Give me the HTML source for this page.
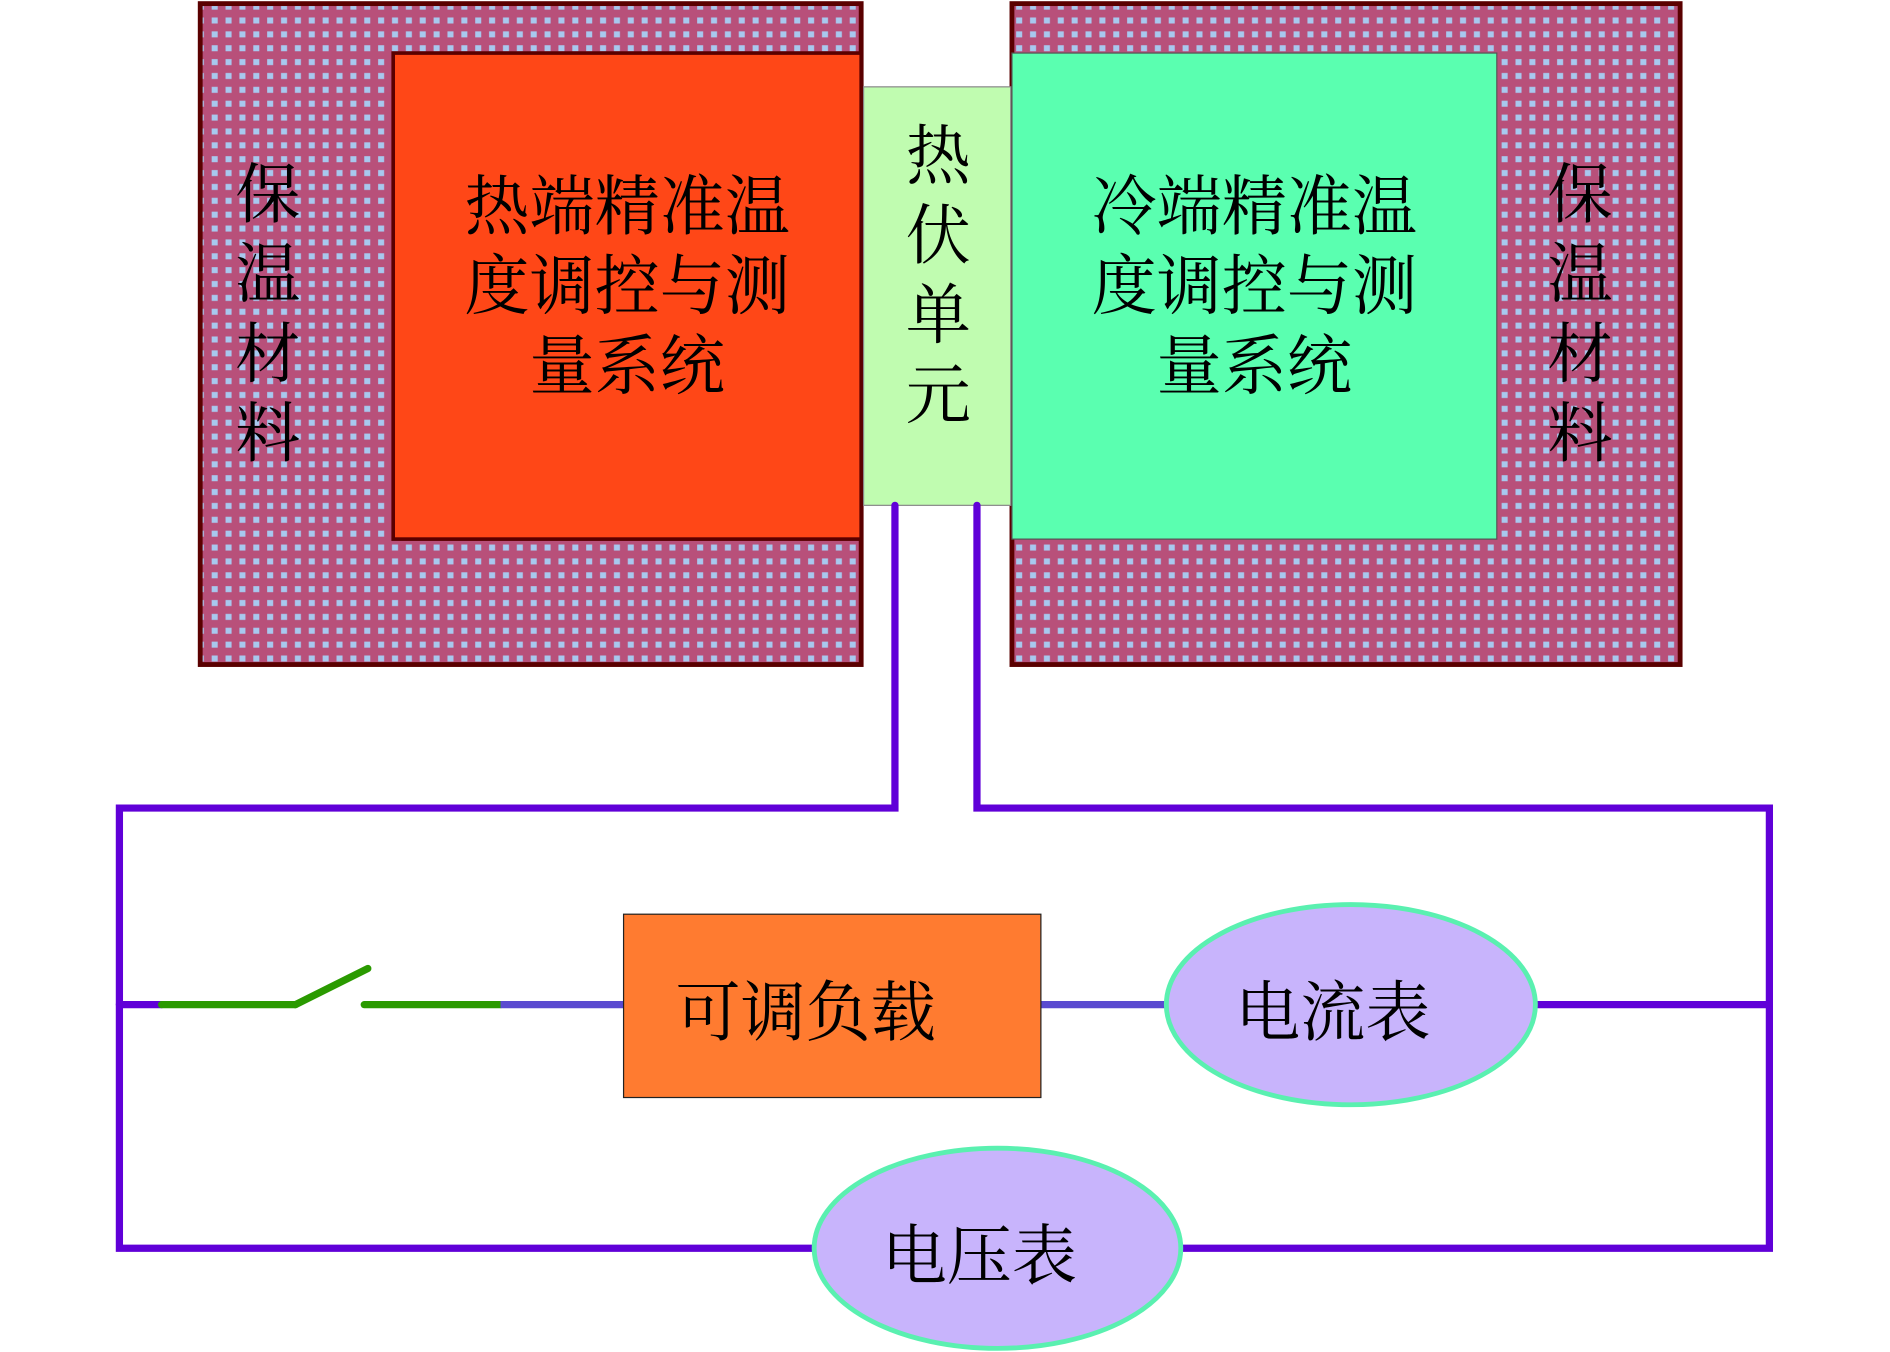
<!DOCTYPE html>
<html><head><meta charset="utf-8"><style>html,body{margin:0;padding:0;background:#fff}svg{display:block}</style></head>
<body>
<svg width="1890" height="1352" viewBox="0 0 1567 1121" preserveAspectRatio="none" xmlns="http://www.w3.org/2000/svg" font-family="'Liberation Serif','Noto Serif CJK SC',serif" font-size="54" text-anchor="middle">
<defs>
<pattern id="p" width="11.5" height="11.5" patternUnits="userSpaceOnUse">
<rect width="11.5" height="11.5" fill="#b8507a"/>
<rect x="3" y="3" width="5" height="5" fill="#a8c8ee"/>
</pattern>
</defs>
<rect x="166" y="3" width="548" height="548" fill="url(#p)" stroke="#5a0000" stroke-width="4"/>
<rect x="839" y="3" width="554" height="548" fill="url(#p)" stroke="#5a0000" stroke-width="4"/>
<rect x="326" y="44" width="388" height="403" fill="#ff4717" stroke="#5a0000" stroke-width="3"/>
<rect x="716" y="72" width="122" height="347" fill="#c0fcb0" stroke="#888" stroke-width="1"/>
<rect x="839" y="44" width="402" height="403" fill="#5affb0" stroke="#555" stroke-width="1"/>
<g>
<text x="222" y="180">保</text><text x="222" y="246">温</text><text x="222" y="312">材</text><text x="222" y="378">料</text>
<text x="1310" y="180">保</text><text x="1310" y="246">温</text><text x="1310" y="312">材</text><text x="1310" y="378">料</text>
<text x="778" y="148">热</text><text x="778" y="214">伏</text><text x="778" y="280">单</text><text x="778" y="346">元</text>
<text x="520" y="190">热端精准温</text><text x="520" y="256">度调控与测</text><text x="520" y="322">量系统</text>
<text x="1040" y="190">冷端精准温</text><text x="1040" y="256">度调控与测</text><text x="1040" y="322">量系统</text>
</g>
<g fill="none" stroke="#6000d8" stroke-width="6" stroke-linecap="round" stroke-linejoin="miter">
<polyline points="742,419 742,670 99,670 99,1035 675,1035"/>
<polyline points="810,419 810,670 1467,670 1467,1035 980,1035"/>
<line x1="99" y1="833" x2="134" y2="833"/>
<line x1="1273" y1="833" x2="1467" y2="833"/>
</g>
<g stroke="#2a9a00" stroke-width="6" stroke-linecap="round">
<line x1="134" y1="833" x2="245" y2="833"/>
<line x1="245" y1="833" x2="305" y2="803"/>
<line x1="302" y1="833" x2="415" y2="833"/>
</g>
<g stroke="#5a4ad0" stroke-width="6">
<line x1="415" y1="833" x2="518" y2="833"/>
<line x1="863" y1="833" x2="966" y2="833"/>
</g>
<rect x="517" y="758" width="346" height="152" fill="#ff7b30" stroke="#222" stroke-width="1"/>
<text x="668" y="858">可调负载</text>
<ellipse cx="1120" cy="833" rx="153" ry="83" fill="#c8b4fc" stroke="#5af0b0" stroke-width="4"/>
<text x="1105" y="858">电流表</text>
<ellipse cx="827" cy="1035" rx="152" ry="83" fill="#c8b4fc" stroke="#5af0b0" stroke-width="4"/>
<text x="812" y="1060">电压表</text>
</svg>
</body></html>
